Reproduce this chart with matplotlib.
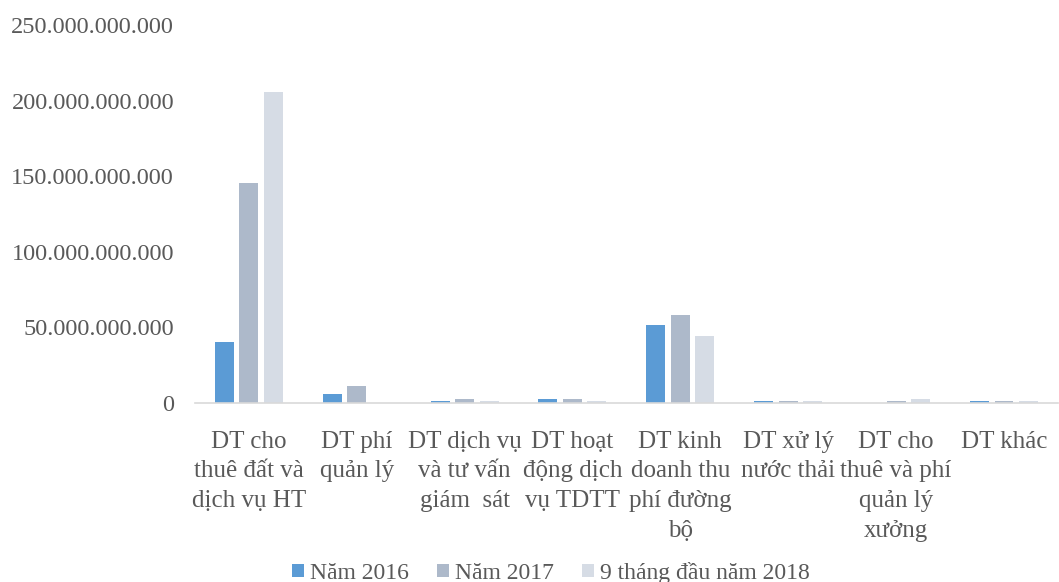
import numpy as np
import matplotlib.pyplot as plt
from matplotlib.ticker import FuncFormatter

# -------------------------------------------------
# Data (VND)
# -------------------------------------------------
categories = [
    "DT cho\nthuê đất và\ndịch vụ HT",
    "DT phí\nquản lý",
    "DT dịch vụ\nvà tư vấn\ngiám  sát",
    "DT hoạt\nđộng dịch\nvụ TDTT",
    "DT kinh\ndoanh thu\nphí đường\nbộ",
    "DT xử lý\nnước thải",
    "DT cho\nthuê và phí\nquản lý\nxưởng",
    "DT khác",
]
series_names = ["Năm 2016", "Năm 2017", "9 tháng đầu năm 2018"]
y2016 = [40.5e9, 6.2e9, 1.5e9, 2.4e9, 51.6e9, 1.5e9, 0.0, 1.5e9]
y2017 = [145.5e9, 11.4e9, 2.4e9, 2.4e9, 58.2e9, 1.5e9, 1.5e9, 1.5e9]
y2018 = [205.8e9, 0.0, 1.5e9, 1.5e9, 44.5e9, 1.5e9, 2.4e9, 1.5e9]
colors = ["#5B9BD5", "#ADB9CA", "#D6DCE5"]

plt.rcParams["font.family"] = ["Liberation Serif", "DejaVu Serif"]
text_color = "#595959"

fig = plt.figure(figsize=(10.59, 5.82), dpi=100)
ax = fig.add_axes([0.184, 0.3076, 0.815, 0.6494])

x = np.arange(len(categories))
w = 0.176
step = 0.227
for i, (vals, name) in enumerate(zip([y2016, y2017, y2018], series_names)):
    ax.bar(x + (i - 1) * step, vals, width=w, color=colors[i], label=name,
           linewidth=0)

ax.set_xlim(-0.5, len(categories) - 0.5)
ax.set_ylim(0, 250e9)
ax.set_yticks(np.arange(0, 251e9, 50e9))
ax.yaxis.set_major_formatter(FuncFormatter(lambda v, p: f"{int(round(v)):,}".replace(",", ".")))
ax.set_xticks(x)
ax.set_xticklabels(categories, fontsize=18, color=text_color, linespacing=1.45)
ax.tick_params(axis="y", labelsize=17.5, labelcolor=text_color, length=0, pad=15)
ax.tick_params(axis="x", length=0, pad=20)

for s in ["top", "right", "left"]:
    ax.spines[s].set_visible(False)
ax.spines["bottom"].set_color("#D9D9D9")
ax.spines["bottom"].set_linewidth(1.2)

leg = fig.legend(loc="lower center", bbox_to_anchor=(0.52, -0.04), ncol=3,
                 frameon=False, fontsize=17, handlelength=0.5, handleheight=0.5,
                 handletextpad=0.25, columnspacing=1.2)
for t in leg.get_texts():
    t.set_color(text_color)

fig.savefig("out.png", dpi=100)
